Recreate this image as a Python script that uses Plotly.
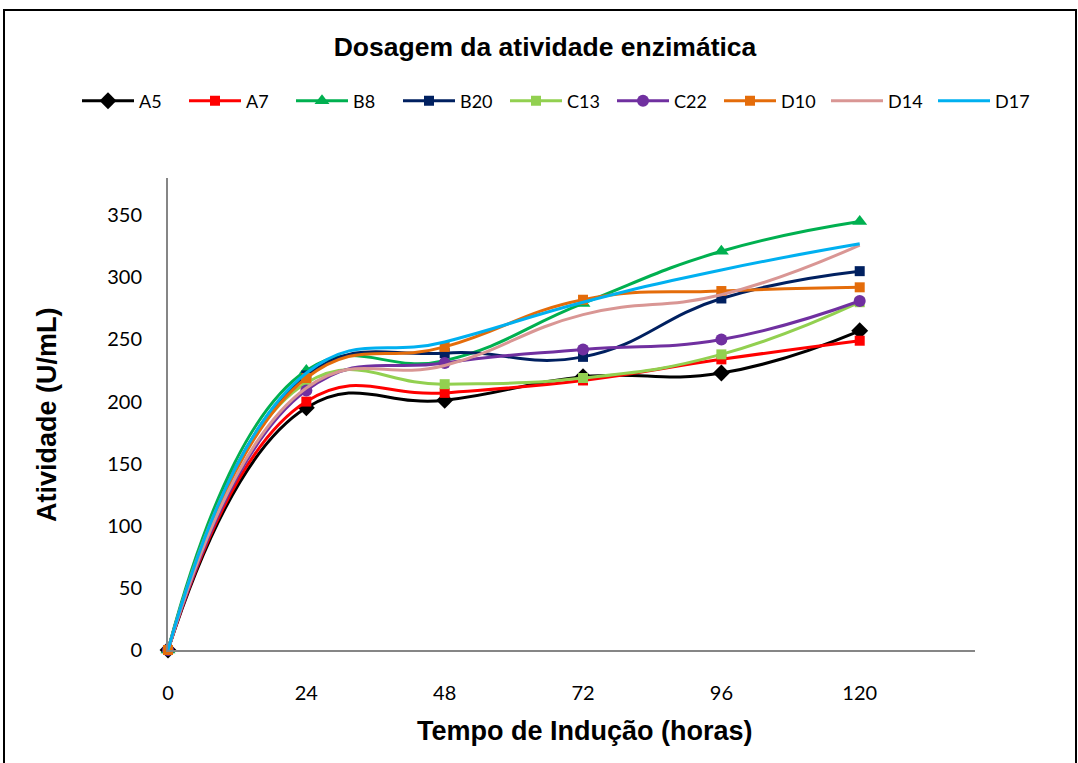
import plotly.graph_objects as go

# Induction time (hours)
tempo = [0, 24, 48, 72, 96, 120]

# Enzyme activity (U/mL) per strain
series = ["A5", "A7", "B8", "B20", "C13", "C22", "D10", "D14", "D17"]
a5 = [0, 195, 201, 220, 223, 257]
a7 = [0, 200, 207, 217, 234, 249]
b8 = [0, 225, 233, 279, 321, 345]
b20 = [0, 221, 239, 236, 283, 305]
c13 = [0, 215, 214, 219, 238, 280]
c22 = [0, 209, 231, 242, 250, 281]
d10 = [0, 219, 244, 282, 289, 292]
d14 = [0, 211, 229, 270, 286, 326]
d17 = [0, 223, 248, 280, 306, 327]
values = [a5, a7, b8, b20, c13, c22, d10, d14, d17]

x_ticks = [0, 24, 48, 72, 96, 120]
y_ticks = [0, 50, 100, 150, 200, 250, 300, 350]

colors = ["#000000", "#FF0000", "#00B050", "#002060", "#92D050",
          "#7030A0", "#E46C0A", "#D99694", "#00B0F0"]
symbols = ["diamond", "square", "triangle-up", "square", "square",
           "circle", "square", None, None]
sizes = [13, 10, 13, 10, 10, 12, 10, 0, 0]

W, H = 1078, 763
L, R, T, B = 168, 103, 178, 113
pw, ph = W - L - R, H - T - B

fig = go.Figure()
for name, vals, col, sym, sz in zip(series, values, colors, symbols, sizes):
    mode = "lines+markers" if sym else "lines"
    marker = dict(symbol=sym, size=sz, color=col, line=dict(width=0)) if sym else None
    fig.add_trace(go.Scatter(
        x=tempo, y=vals, name=name, mode=mode,
        line=dict(color=col, width=3, shape="spline", smoothing=1.3),
        marker=marker, cliponaxis=False,
    ))

tick_font = dict(family="Lato, Open Sans, sans-serif", size=20, color="#000000")
bold_font = dict(family="Liberation Sans, Arial, sans-serif", size=27, color="#000000")

fig.update_layout(
    width=W, height=H,
    margin=dict(l=L, r=R, t=T, b=B),
    paper_bgcolor="white", plot_bgcolor="white",
    title=dict(text="<b>Dosagem da atividade enzimática</b>",
               x=545 / W, xanchor="center", xref="container",
               y=1 - 47 / H, yanchor="middle", yref="container",
               font=dict(family="Liberation Sans, Arial, sans-serif", size=26.5, color="#000000")),
    legend=dict(orientation="h", x=(77 - L) / pw, xanchor="left",
                y=(H - B - 101) / ph, yanchor="middle",
                font=dict(family="Lato, Open Sans, sans-serif", size=18, color="#000000"),
                entrywidth=40, entrywidthmode="pixels", itemwidth=52,
                bgcolor="rgba(0,0,0,0)", tracegroupgap=0),
    xaxis=dict(range=[0, 140], tickvals=x_ticks, ticktext=[str(v) for v in x_ticks],
               showgrid=False, zeroline=False, showline=True,
               linecolor="#868686", linewidth=2, ticks="",
               tickfont=tick_font, ticklabelstandoff=24),
    yaxis=dict(range=[0, 380], tickvals=y_ticks, ticktext=[str(v) for v in y_ticks],
               showgrid=False, zeroline=False, showline=True,
               linecolor="#868686", linewidth=2, ticks="",
               tickfont=tick_font, ticklabelstandoff=20),
    annotations=[
        dict(text="<b>Tempo de Indução (horas)</b>", xref="paper", yref="paper",
             x=(585 - L) / pw, y=(H - B - 731) / ph, xanchor="center", yanchor="middle",
             showarrow=False, font=bold_font),
        dict(text="<b>Atividade (U/mL)</b>", xref="paper", yref="paper",
             x=(47 - L) / pw, y=(H - B - 415) / ph, xanchor="center", yanchor="middle",
             textangle=-90, showarrow=False, font=bold_font),
    ],
    shapes=[
        dict(type="rect", xref="paper", yref="paper",
             x0=(4 - L) / pw, x1=(1076 - L) / pw,
             y0=(H - B - 775) / ph, y1=(H - B - 10) / ph,
             line=dict(color="#000000", width=2), fillcolor="rgba(0,0,0,0)",
             layer="below"),
    ],
)

fig.write_html("out.html")
